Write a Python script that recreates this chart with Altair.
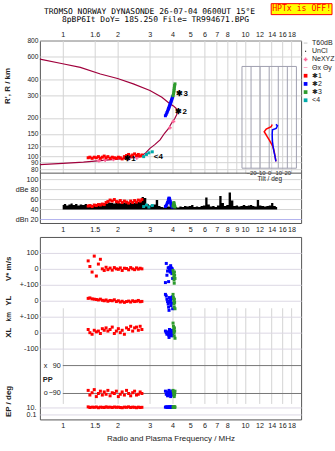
import altair as alt
import pandas as pd

FONT = "Liberation Sans"
MONO = "DejaVu Sans Mono"
GRID = "#d4d4d4"
FRAME = "#555555"
INK = "#222222"

# ---------------- axes / ticks ----------------
freq_domain = [0.75, 20.3]
freq_ticks = [1, 1.5, 2, 3, 4, 5, 6, 7, 8, 9, 10, 12, 14, 16, 18]
r_ticks = [80, 90, 100, 120, 150, 200, 300, 400, 600, 800]
db_ticks = [20, 40, 60, 80, 100]
tilt_ticks = [-20, -10, 0, 10, 20]
vxy_ticks = [300, 200, 100, 0, -100, -200, -300]
ep_ticks = [10, 0.1]
pp_lines = [90, -90]

title_lines = ["TROMSO NORWAY   DYNASONDE 26-07-04 0600UT 15°E",
               "8pBP6It DoY= 185.250 File= TR994671.BPG"]

series_names = ["T60dB", "UnCl", "NeXYZ", "Θx  Θy", "✱1", "✱2", "✱3", "<4"]
series_colors = ["#999999", "#000000", "#ff6699", "#ff6699", "#ff0000", "#0000ff", "#2e9b2e", "#00aaaa"]
LINE_SYM = "M-1,-0.15L1,-0.15L1,0.15L-1,0.15Z"
DOT_SYM = "M-0.3,-0.3L0.3,-0.3L0.3,0.3L-0.3,0.3Z"
series_shapes = [LINE_SYM, DOT_SYM, "cross", LINE_SYM, "square", "square", "square", "square"]

# ---------------- upper panel: profile ----------------
prof_f = [0.75, 1.0, 1.25, 1.61, 2.0, 2.44, 3.01, 3.5, 3.87, 4.05, 4.18, 4.25, 4.22, 4.12,
          3.95, 3.8, 3.62, 3.42, 3.2, 3.01, 2.85, 2.7, 2.52, 2.2, 2.0, 1.61, 1.3, 1.0, 0.75]
prof_r = [573, 528, 495, 439, 405, 368, 327, 290, 258, 248, 238, 228, 212, 198,
          182, 165, 152, 135, 124, 116, 107, 101, 98.8, 97, 95.5, 93, 90.5, 88.5, 86.8]

nexyz_f = [1.58, 1.71, 1.90, 2.30, 2.55, 3.87, 4.05]
nexyz_r = [93, 94, 95, 96.5, 98, 168, 188]

# ---------------- echoes ----------------
red_f = [1.38, 1.41, 1.45, 1.49, 1.53, 1.57, 1.61, 1.65, 1.69, 1.73, 1.77, 1.82, 1.87, 1.92,
         1.97, 2.02, 2.07, 2.12, 2.18, 2.24, 2.30, 2.36, 2.42, 2.48, 2.54, 2.60, 2.66, 2.72]
red_r = [98, 99, 97, 99, 98, 100, 97, 99, 101, 98, 100, 97, 99, 98,
         97, 99, 98, 96, 100, 102, 104, 101, 103, 105, 102, 104, 101, 103]
red_db = [46, 47, 45, 48, 47, 49, 48, 50, 49, 53, 55, 58, 56, 59,
          55, 54, 57, 53, 56, 54, 52, 56, 53, 57, 54, 58, 56, 59]
red_v = [50, 15, -20, 80, -45, 30, 60, 0, -10, 10, -5, 5, -8, 8,
         0, -3, 6, -10, 4, 2, -6, 8, 0, -5, 6, -2, 4, 0]
red_yl = [15, 18, 12, 10, 8, 5, 10, 3, 0, 5, -3, 2, 0, 6,
          -5, 0, -8, -3, -10, -5, -2, -8, 0, -5, -3, 2, -6, -4]
red_xl = [20, 0, -10, 15, 5, 10, -5, 25, 15, 30, 10, 20, 35, -5,
          10, 25, 0, 15, -10, 30, 20, 40, 10, 30, 35, 15, 40, 20]
red_pp = [-70, -100, -85, -65, -110, -90, -75, -100, -80, -95, -70, -105, -85, -90,
          -75, -110, -95, -80, -100, -70, -90, -105, -85, -75, -100, -95, -80, -90]
red_ep = [12, 8, 10, 9, 11, 7, 10, 9, 8, 12, 9, 10, 8, 11,
          9, 10, 8, 7, 10, 9, 12, 8, 10, 9, 7, 10, 8, 9]

blue_f = [3.66, 3.70, 3.73, 3.76, 3.79, 3.81, 3.83, 3.85, 3.87, 3.89, 3.91, 3.93, 3.95, 3.97, 3.99, 4.01]
blue_r = [208, 214, 220, 226, 232, 237, 242, 247, 252, 257, 262, 268, 274, 280, 286, 292]
blue_db = [45, 47, 50, 53, 56, 60, 62, 61, 58, 55, 52, 49, 47, 46, 44, 45]
blue_v = [-86, 34, -40, -14, 6, -80, 10, -5, 0, -20, 20, -10, 5, -30, 0, -60]
blue_yl = [40, 30, 10, -5, -20, -40, -60, 20, 0, -10, 5, -30, 15, -15, 25, -50]
blue_xl = [10, 0, -10, 5, -5, -15, -30, 20, 0, 10, -10, 5, -20, 15, 0, -5]
blue_pp = [-75, -95, -85, -105, -80, -90, -70, -100, -85, -95, -110, -80, -90, -75, -100, -85]
blue_ep = [10, 12, 9, 10, 11, 8, 10, 12, 9, 10, 11, 10, 9, 12, 10, 8]

green_f = [4.03, 4.05, 4.07, 4.08, 4.09, 4.10, 4.11, 4.13]
green_r = [298, 308, 318, 328, 338, 348, 358, 368]
green_db = [46, 50, 53, 51, 48, 47, 45, 44]
green_v = [-10, -30, -50, -70, -90, -20, -40, -60]
green_yl = [40, 20, 0, -20, -40, 10, -10, -50]
green_xl = [60, 40, 20, 0, -20, 30, 10, -35]
green_pp = [-70, -80, -90, -100, -110, -85, -95, -75]
green_ep = [10, 12, 9, 11, 10, 8, 12, 10]

teal_f = [2.78, 2.88, 2.97, 3.10]
teal_r = [100, 104, 107, 109]
teal_db = [45, 48, 44, 47]

echo_labels = ["✱1", "<4", "✱2", "✱3"]
echo_label_f = [2.12, 3.08, 4.05, 4.1]
echo_label_r = [95, 100, 222, 305]

# ---------------- tilt inset ----------------
thx_t = [7.4, 6.5, 5.5, 4.0, 2.2, 0.0, -2.2, -4.4, -5.5, -3.3, 2.2, 3.3]
thx_r = [92, 100, 110, 120, 127, 135, 143, 152, 156, 164, 171, 178]
thy_t = [7.4, 6.5, 5.2, 4.3, 3.6, 3.4, 3.3, 3.6, 7.7, 9.1, 7.4]
thy_r = [92, 100, 110, 120, 131, 140, 150, 162, 166, 174, 178]

# ---------------- noise spectrum (dBe) ----------------
noise_f = [1.00, 1.03, 1.06, 1.09, 1.12, 1.15, 1.19, 1.22, 1.26, 1.30, 1.34, 1.38,
           1.42, 1.46, 1.50, 1.55, 1.60, 1.65, 1.70, 1.75, 1.80, 1.86, 1.92, 1.98,
           2.04, 2.10, 2.16, 2.23, 2.30, 2.37, 2.44, 2.51, 2.59, 2.67,
           2.75, 2.83, 2.92, 3.01, 3.10,
           3.19, 3.29, 3.39, 3.49, 3.60, 3.71, 3.82, 3.93, 4.05,
           4.17, 4.30, 4.43, 4.56, 4.70, 4.84, 4.99, 5.14, 5.29, 5.45, 5.62, 5.79, 5.96,
           6.14, 6.32, 6.51, 6.71, 6.91, 7.12, 7.33, 7.55, 7.78,
           8.01, 8.25, 8.50, 8.76, 9.02, 9.29, 9.57, 9.86,
           10.2, 10.5, 10.8, 11.1, 11.4, 11.8, 12.1, 12.5, 12.9, 13.3, 13.7, 14.1, 14.5, 15.0]
noise_db = [48, 50, 47, 49, 51, 48, 50, 47, 49, 48, 50, 47,
            49, 48, 50, 49, 51, 50, 52, 51, 53, 52, 51, 53,
            52, 51, 53, 52, 51, 53, 52, 53, 54, 55,
            64, 62, 50, 47, 46,
            49, 58, 46, 44, 43, 44, 45, 44, 43,
            44, 43, 45, 44, 46, 45, 46, 48, 44, 45, 44, 46, 47,
            63, 49, 45, 46, 44, 47, 66, 52, 46,
            48, 73, 57, 46, 47, 45, 46, 48,
            46, 47, 48, 46, 45, 58, 47, 46, 45, 46, 47, 52, 46, 44]

# ---------------- tables ----------------
profile_df = pd.DataFrame({"f": prof_f, "R": prof_r, "i": list(range(len(prof_f)))})
nexyz_df = pd.DataFrame({"f": nexyz_f, "R": nexyz_r})
noise_df = pd.DataFrame({"f": noise_f, "dB": noise_db})
label_df = pd.DataFrame({"label": echo_labels, "f": echo_label_f, "R": echo_label_r})
thx_df = pd.DataFrame({"t": thx_t, "R": thx_r, "i": list(range(len(thx_t)))})
thy_df = pd.DataFrame({"t": thy_t, "R": thy_r, "i": list(range(len(thy_t)))})
tilt_df = pd.DataFrame({"t": tilt_ticks})
pp_df = pd.DataFrame({"pp": pp_lines})

up_rows = []
for name, fs, rs, ds in [("✱1", red_f, red_r, red_db), ("✱2", blue_f, blue_r, blue_db),
                         ("✱3", green_f, green_r, green_db), ("<4", teal_f, teal_r, teal_db)]:
    for a, b, c in zip(fs, rs, ds):
        up_rows.append({"series": name, "f": a, "R": b, "dB": c})
up_df = pd.DataFrame(up_rows)

vxy_rows, ppp_rows, ep_rows = [], [], []
for name, fs, vs, ys, xs, ps, es in [("✱1", red_f, red_v, red_yl, red_xl, red_pp, red_ep),
                                     ("✱2", blue_f, blue_v, blue_yl, blue_xl, blue_pp, blue_ep),
                                     ("✱3", green_f, green_v, green_yl, green_xl, green_pp, green_ep)]:
    for k, a in enumerate(fs):
        vxy_rows.append({"series": name, "f": a, "u": vs[k] + 200})
        vxy_rows.append({"series": name, "f": a, "u": ys[k]})
        vxy_rows.append({"series": name, "f": a, "u": xs[k] - 200})
        ppp_rows.append({"series": name, "f": a, "pp": ps[k]})
        ep_rows.append({"series": name, "f": a, "ep": es[k]})
vxy_df = pd.DataFrame(vxy_rows)
ppp_df = pd.DataFrame(ppp_rows)
ep_df = pd.DataFrame(ep_rows)
one = pd.DataFrame({"k": [0]})

# ---------------- scales ----------------
x_scale = alt.Scale(type="log", domain=freq_domain, nice=False)
R_scale = alt.Scale(type="log", domain=[74.4, 800], range=[133, 0], nice=False)
dB_scale = alt.Scale(domain=[12, 112], range=[183, 133], nice=False, zero=False)
tilt_scale = alt.Scale(domain=[-30, 30], range=[202.7, 257.3], nice=False, zero=False)
vxy_scale = alt.Scale(domain=[-300, 300], range=[112, 16], nice=False, zero=False)
pp_scale = alt.Scale(domain=[-90, 90], range=[157, 129], nice=False, zero=False)
ep_scale = alt.Scale(type="log", domain=[0.1, 10], range=[178, 170.7], nice=False)

lab = dict(labelFont=FONT, labelFontSize=7.2, labelColor=INK, domain=False, ticks=False,
           labelOverlap=False, labelFlush=False)


def freq_axis(orient, expr, grid, pad, title=None):
    kw = dict(orient=orient, values=freq_ticks, labelExpr=expr, grid=grid, gridColor=GRID,
              labelPadding=pad, **lab)
    if title:
        kw.update(title=title, titleFont=FONT, titleFontSize=8, titleFontWeight="normal",
                  titleColor=INK, titlePadding=6)
    else:
        kw.update(title=None)
    return alt.Axis(**kw)


top_axis = freq_axis("top", "datum.value == 1.5 ? '1.6' : datum.value == 9 ? '' : '' + datum.value", True, 2)
mid_axis = freq_axis("bottom", "'' + datum.value", False, 3)
bot_axis = freq_axis("bottom", "datum.value == 9 ? '' : '' + datum.value", True, 2,
                     "Radio and Plasma Frequency / MHz")

R_axis = alt.Axis(orient="left", values=r_ticks, grid=True, gridColor=GRID, labelPadding=2,
                  labelExpr="'' + datum.value", title="R', R / km", titleFont=FONT,
                  titleFontSize=8, titleFontWeight="bold", titleColor=INK, titleY=45,
                  titleX=-28, titleAngle=270, labelFont=FONT, labelFontSize=6.6, labelColor=INK,
                  domain=False, ticks=False, labelOverlap=False, labelFlush=False)
dB_axis = alt.Axis(orient="left", values=db_ticks, grid=True, labelPadding=2, title=None,
                   gridColor={"condition": {"test": "datum.value === 20", "value": "#b4b4ee"},
                              "value": GRID},
                   labelExpr="datum.value == 80 ? 'dBe 80' : datum.value == 20 ? 'dBn 20' : '' + datum.value",
                   **lab)
tilt_axis = alt.Axis(orient="bottom", offset=-55, values=tilt_ticks, grid=False, labelPadding=1,
                     labelFont=FONT, labelFontSize=6, labelColor=INK, domain=False, ticks=False,
                     labelOverlap=False, labelFlush=False, title="Tilt / deg", titleFont=FONT,
                     titleFontSize=6.5, titleFontWeight="normal", titleColor=INK, titlePadding=0)
vxy_axis = alt.Axis(orient="left", values=vxy_ticks, grid=True, gridColor="#dcd8e4", labelPadding=2,
                    title=None,
                    labelExpr="datum.value == 300 ? '100' : (datum.value == 100 || datum.value == -100) ? '+-100' : datum.value == -300 ? '-100' : '0'",
                    **lab)
ep_axis = alt.Axis(orient="left", values=ep_ticks, grid=True, gridColor="#dcd8e4", labelPadding=4,
                   title=None, labelExpr="datum.value == 10 ? '10.' : '0.1'", **lab)

legend = alt.Legend(title=None, orient="none", legendX=263, legendY=-1, labelFont=FONT,
                    labelFontSize=7, labelColor=INK, symbolSize=14, rowPadding=0.2, labelOffset=3,
                    padding=0, symbolStrokeWidth=0, symbolOpacity=1, labelLimit=40)
color_enc = alt.Color("series:N", scale=alt.Scale(domain=series_names, range=series_colors), legend=legend)
shape_enc = alt.Shape("series:N", scale=alt.Scale(domain=series_names, range=series_shapes), legend=legend)

XA = alt.X("f:Q", scale=x_scale, axis=top_axis)
YA = alt.Y("R:Q", scale=R_scale, axis=R_axis)

# ---------------- panel A: virtual height ----------------
a_profile = alt.Chart(profile_df).mark_line(color="#a0003c", strokeWidth=1.2).encode(
    x=XA, y=YA, order="i:Q")
a_nexyz = alt.Chart(nexyz_df).mark_point(shape="cross", filled=True, size=14, color="#ff6699", opacity=1).encode(
    x=XA, y=YA)
a_pts = alt.Chart(up_df).mark_point(filled=True, size=9, opacity=1, strokeWidth=0).encode(
    x=XA, y=YA, color=color_enc, shape=shape_enc)
a_labels = alt.Chart(label_df).mark_text(align="left", baseline="middle", dx=2, font=FONT,
                                         fontSize=8, fontWeight="bold", color="black").encode(
    x=XA, y=YA, text="label:N")
a_title1 = alt.Chart(one).mark_text(font=MONO, fontSize=8, color="black", align="center",
                                     baseline="middle").encode(
    x=alt.value(110), y=alt.value(-28.5), text=alt.value(title_lines[0]))
a_title2 = alt.Chart(one).mark_text(font=MONO, fontSize=8, color="black", align="center",
                                     baseline="middle").encode(
    x=alt.value(116), y=alt.value(-20.3), text=alt.value(title_lines[1]))
a_box = alt.Chart(one).mark_rect(fill="#ffff00", stroke="#ff0000", strokeWidth=1).encode(
    x=alt.value(232), x2=alt.value(293), y=alt.value(-37), y2=alt.value(-26))
a_box_text = alt.Chart(one).mark_text(font=MONO, fontSize=8.2, color="#ff0000", align="center",
                                       baseline="middle").encode(
    x=alt.value(262.5), y=alt.value(-31.3), text=alt.value("HPTx is OFF!"))

A = alt.layer(a_profile, a_nexyz, a_pts, a_labels, a_title1, a_title2, a_box, a_box_text)

# ---------------- tilt inset ----------------
XT = alt.X("t:Q", scale=tilt_scale, axis=tilt_axis)
YT = alt.Y("R:Q", scale=R_scale, axis=None)
i_frame = alt.Chart(one).mark_rect(fillOpacity=0, stroke="#a0a0b0", strokeWidth=1).encode(
    x=alt.XDatum(-30, scale=tilt_scale, axis=tilt_axis), x2=alt.X2Datum(30),
    y=alt.YDatum(81.3, scale=R_scale, axis=None), y2=alt.Y2Datum(503))
i_grid = alt.Chart(tilt_df).mark_rule(color="#a0a0b0", strokeWidth=1).encode(
    x=XT, y=alt.YDatum(81.3, scale=R_scale, axis=None), y2=alt.Y2Datum(503))
i_x = alt.Chart(thx_df).mark_line(color="#ff0000", strokeWidth=1.5).encode(x=XT, y=YT, order="i:Q")
i_y = alt.Chart(thy_df).mark_line(color="#0000ff", strokeWidth=1.5).encode(x=XT, y=YT, order="i:Q")
INSET = alt.layer(i_frame, i_grid, i_x, i_y)

# ---------------- panel B: amplitude ----------------
XB = alt.X("f:Q", scale=x_scale, axis=mid_axis)
YB = alt.Y("dB:Q", scale=dB_scale, axis=dB_axis)
b_noise = alt.Chart(noise_df).mark_area(color="black", interpolate="step").encode(
    x=XB, y=YB, y2=alt.Y2Datum(39))
b_pts = alt.Chart(up_df).mark_point(filled=True, size=9, opacity=1, strokeWidth=0).encode(
    x=XB, y=YB, color=color_enc, shape=shape_enc)
b_sep = alt.Chart(one).mark_rule(color=FRAME, strokeWidth=1).encode(
    y=alt.YDatum(112, scale=dB_scale, axis=dB_axis))
B = alt.layer(b_noise, b_pts, b_sep)

TOP = alt.layer(A, INSET, B).resolve_scale(x="independent", y="independent").properties(
    width=262, height=183)

# ---------------- panel C: V*, YL, XL, PP, EP ----------------
XC = alt.X("f:Q", scale=x_scale, axis=bot_axis)
c_vxy = alt.Chart(vxy_df).mark_point(filled=True, size=9, opacity=1, strokeWidth=0).encode(
    x=XC, y=alt.Y("u:Q", scale=vxy_scale, axis=vxy_axis), color=color_enc, shape=shape_enc)


def side_text(txt, ypix, size=8):
    return alt.Chart(one).mark_text(font=FONT, fontSize=size, fontWeight="bold", color=INK,
                                    angle=270, align="center", baseline="middle").encode(
        x=alt.value(-31), y=alt.value(ypix), text=alt.value(txt))


c_titles = [side_text("V* m/s", 32), side_text("YL", 64), side_text("km", 80, 6.5),
            side_text("XL", 96), side_text("EP / deg", 165)]
C_VXY = alt.layer(c_vxy, *c_titles)

YP = alt.Y("pp:Q", scale=pp_scale, axis=None)
c_pp_rules = alt.Chart(pp_df).mark_rule(color="#777777", strokeWidth=1).encode(
    y=YP, x=alt.value(23), x2=alt.value(262))
c_pp_pts = alt.Chart(ppp_df).mark_point(filled=True, size=9, opacity=1, strokeWidth=0).encode(
    x=XC, y=YP, color=color_enc, shape=shape_enc)
c_pp_lab = alt.Chart(pp_df).mark_text(font=FONT, fontSize=7.2, color=INK, align="right",
                                       baseline="middle").encode(
    y=YP, x=alt.value(21),
    text=alt.Text("pp:Q", format="d"))
c_pp_sym = alt.Chart(pp_df).mark_text(font=FONT, fontSize=7.2, color=INK, align="left",
                                       baseline="middle").encode(
    y=YP, x=alt.value(4), text=alt.condition("datum.pp > 0", alt.value("x"), alt.value("o")))
c_pp_name = alt.Chart(one).mark_text(font=FONT, fontSize=7.5, fontWeight="bold", color=INK,
                                      align="left", baseline="middle").encode(
    y=alt.YDatum(0, scale=pp_scale, axis=None), x=alt.value(3), text=alt.value("PP"))
C_PP = alt.layer(c_pp_rules, c_pp_pts, c_pp_lab, c_pp_sym, c_pp_name)

c_ep = alt.Chart(ep_df).mark_point(filled=True, size=9, opacity=1, strokeWidth=0).encode(
    x=XC, y=alt.Y("ep:Q", scale=ep_scale, axis=ep_axis), color=color_enc, shape=shape_enc)

LOW = alt.layer(C_VXY, C_PP, c_ep).resolve_scale(y="independent").properties(width=262, height=183)

chart = alt.vconcat(TOP, LOW, spacing=2).resolve_scale(
    x="independent", y="independent", color="shared", shape="shared"
).properties(
    padding={"left": 3, "top": 2, "right": 0, "bottom": 0}, background="white"
).configure_view(stroke=FRAME, strokeWidth=1)

chart.save("out.html", embed_options={"renderer": "svg", "actions": False})
